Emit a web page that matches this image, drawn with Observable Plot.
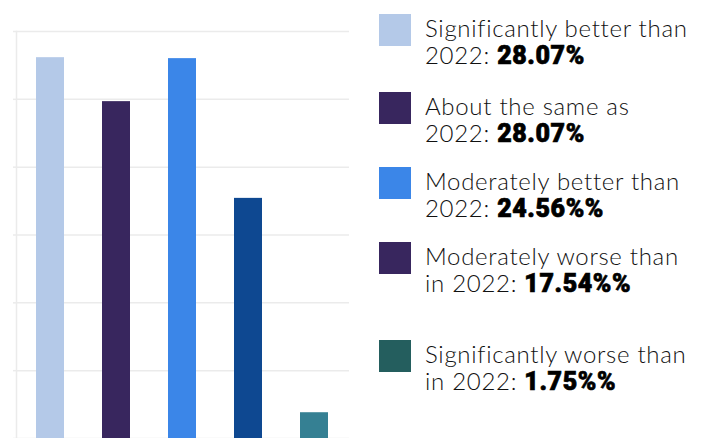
<!DOCTYPE html>
<html>
<head>
<meta charset="utf-8">
<script src="https://cdn.jsdelivr.net/npm/d3@7"></script>
<script src="https://cdn.jsdelivr.net/npm/@observablehq/plot@0.6"></script>
<style>
  html, body { margin: 0; padding: 0; background: #fff; }
  #wrap { position: relative; width: 706px; height: 438px; overflow: hidden; }
  #chart { position: absolute; left: 0; top: 0; }
  .item { position: absolute; left: 379px; display: flex; }
  .sw { width: 32px; height: 32px; flex: none; }
  .txt { position: absolute; left: 46px; top: 0; width: 320px; font-family: Lato, "Open Sans", sans-serif; font-weight: 300; font-size: 24px; line-height: 27px; letter-spacing: 0.7px; color: #111; white-space: nowrap; }
  .txt b { font-family: Roboto, Lato, sans-serif; font-weight: 900; font-size: 25px; letter-spacing: 0.6px; color: #000; -webkit-text-stroke: 0.7px #000; }
</style>
</head>
<body>
<div id="wrap"><div id="chart"></div><div id="legend"></div></div>
<script>
const categories = ["A", "B", "C", "D", "E"];
const values = [28.07, 24.83, 28.0, 17.7, 1.9];
const barColors = ["#b4c9e8", "#38265e", "#3b86e8", "#0e4891", "#358093"];
const yTicks = [0, 5, 10, 15, 20, 25, 30];

const legendLines1 = ["Significantly better than", "About the same as", "Moderately better than", "Moderately worse than", "Significantly worse than"];
const legendLines2 = ["2022: ", "2022: ", "2022: ", "in 2022: ", "in 2022: "];
const legendValues = ["28.07%", "28.07%", "24.56%%", "17.54%%", "1.75%%"];
const legendColors = ["#b4c9e8", "#38265e", "#3b86e8", "#38265e", "#245e5e"];
const legendTops = [14, 92, 167, 242, 340];

const data = categories.map((c, i) => ({cat: c, value: values[i], color: barColors[i]}));

const chart = Plot.plot({
  width: 355,
  height: 438,
  marginLeft: 16,
  marginRight: 6,
  marginTop: 31,
  marginBottom: 0,
  x: {domain: categories, paddingInner: 0.57, paddingOuter: 0.285, axis: null},
  y: {domain: [0, 30], ticks: yTicks, label: null},
  marks: [
    Plot.gridY(yTicks, {stroke: "#ebebeb", strokeOpacity: 1, strokeWidth: 1.5}),
    Plot.axisY(yTicks, {tickSize: 3, tickFormat: () => "", stroke: "#ebebeb", strokeWidth: 1.5, label: null}),
    Plot.frame({anchor: "left", stroke: "#ebebeb", strokeWidth: 1.5}),
    Plot.barY(data, {x: "cat", y: "value", fill: "color"})
  ]
});
document.getElementById("chart").appendChild(chart);

const legend = document.getElementById("legend");
legendLines1.forEach((l, i) => {
  const item = document.createElement("div");
  item.className = "item";
  item.style.top = legendTops[i] + "px";
  item.innerHTML = `<div class="sw" style="background:${legendColors[i]}"></div><div class="txt">${l}<br>${legendLines2[i]}<b>${legendValues[i]}</b></div>`;
  legend.appendChild(item);
});
</script>
</body>
</html>
